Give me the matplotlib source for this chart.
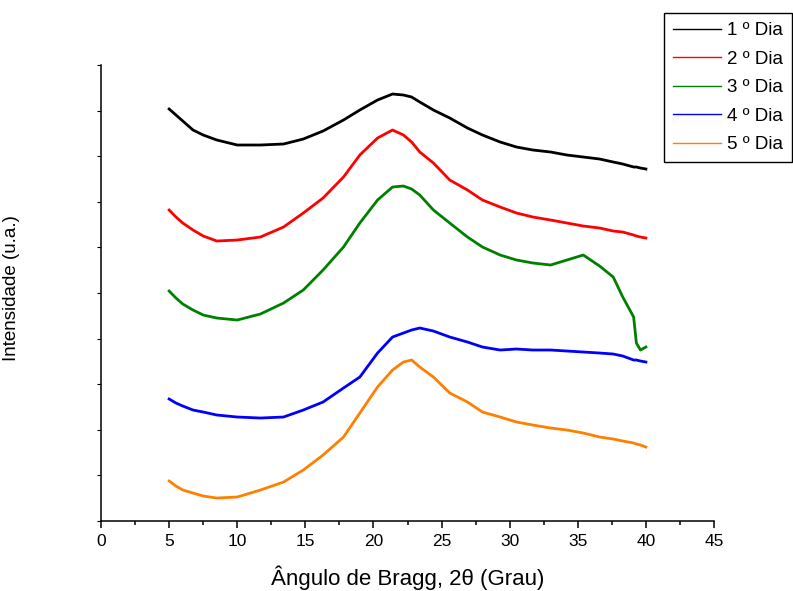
import matplotlib
matplotlib.use("Agg")
import matplotlib.pyplot as plt
from matplotlib.ticker import MultipleLocator

plt.rcParams['font.family'] = ['Liberation Sans', 'DejaVu Sans']

# angulo 2theta (graus)
angle = [5.0, 5.5, 6.0, 6.75, 7.5, 8.5, 10.0, 11.7, 13.4, 14.85, 16.3, 17.8, 19.0, 20.3,
         21.4, 22.2, 22.8, 23.4, 24.4, 25.6, 26.9, 28.0, 29.3, 30.5, 31.7, 33.0, 34.2,
         35.4, 36.6, 37.6, 38.3, 39.1, 39.3, 39.6, 40.0]

# intensidade (u.a.), curvas deslocadas como no original
dia1 = [412, 406, 400, 391, 386, 381, 376, 376, 377, 382, 390, 401, 411, 421, 427, 426, 424,
        419, 411, 403, 393, 386, 379, 374, 371, 369, 366, 364, 362, 359, 357, 354, 354, 353, 352]
dia2 = [311, 304, 298, 291, 285, 280, 281, 284, 294, 308, 323, 344, 366, 383, 391, 386, 379,
        369, 358, 341, 331, 321, 314, 308, 304, 301, 298, 295, 293, 290, 289, 286, 285, 284, 283]
dia3 = [230, 223, 217, 211, 206, 203, 201, 207, 218, 231, 251, 274, 298, 321, 334, 335, 332,
        326, 311, 298, 284, 274, 266, 261, 258, 256, 261, 266, 255, 244, 224, 204, 178, 171, 174]
dia4 = [122, 118, 115, 111, 109, 106, 104, 103, 104, 111, 119, 133, 144, 168, 184, 188, 191,
        193, 190, 184, 179, 174, 171, 172, 171, 171, 170, 169, 168, 167, 165, 161, 161, 160, 159]
dia5 = [40, 35, 31, 28, 25, 23, 24, 31, 39, 51, 66, 84, 108, 134, 151, 159, 161,
        154, 144, 128, 119, 109, 104, 99, 96, 93, 91, 88, 84, 82, 80, 78, 77, 76, 74]

labels = ["1 º Dia", "2 º Dia", "3 º Dia", "4 º Dia", "5 º Dia"]
colors = ["black", "#ff0000", "#008000", "#0000ff", "#ff8000"]

fig = plt.figure(figsize=(7.93, 5.91), dpi=100)
ax = fig.add_axes([0.1274, 0.1184, 0.773, 0.7716])

for serie, lab, cor in zip([dia1, dia2, dia3, dia4, dia5], labels, colors):
    ax.plot(angle, serie, color=cor, linewidth=2.0, label=lab)

ax.set_xlim(0, 45)
ax.set_ylim(0, 456)
ax.xaxis.set_major_locator(MultipleLocator(5))
ax.xaxis.set_minor_locator(MultipleLocator(2.5))
ax.yaxis.set_major_locator(MultipleLocator(45.6))
ax.set_yticklabels([])
ax.tick_params(axis='x', which='major', length=5, width=1.1, labelsize=12.5, pad=4)
ax.tick_params(axis='x', which='minor', length=3, width=1.1)
ax.tick_params(axis='y', which='major', length=3, width=0.8)

for s in ['top', 'right']:
    ax.spines[s].set_visible(False)
for s in ['left', 'bottom']:
    ax.spines[s].set_linewidth(1.1)

ax.set_xlabel("Ângulo de Bragg, 2θ (Grau)", fontsize=16, labelpad=12)
ax.set_ylabel("Intensidade (u.a.)", fontsize=13.5)
ax.yaxis.set_label_coords(-0.132, 0.51)

leg = fig.legend(loc='upper left', bbox_to_anchor=(0.837, 0.978), fontsize=13.5,
                 frameon=True, fancybox=False, edgecolor='black', framealpha=1,
                 borderaxespad=0, handlelength=2.56, handletextpad=0.32,
                 labelspacing=0.61, borderpad=0.48)
leg.get_frame().set_linewidth(1.0)
for h in leg.get_lines():
    h.set_linewidth(1.0)

fig.savefig("out.png", dpi=100)
